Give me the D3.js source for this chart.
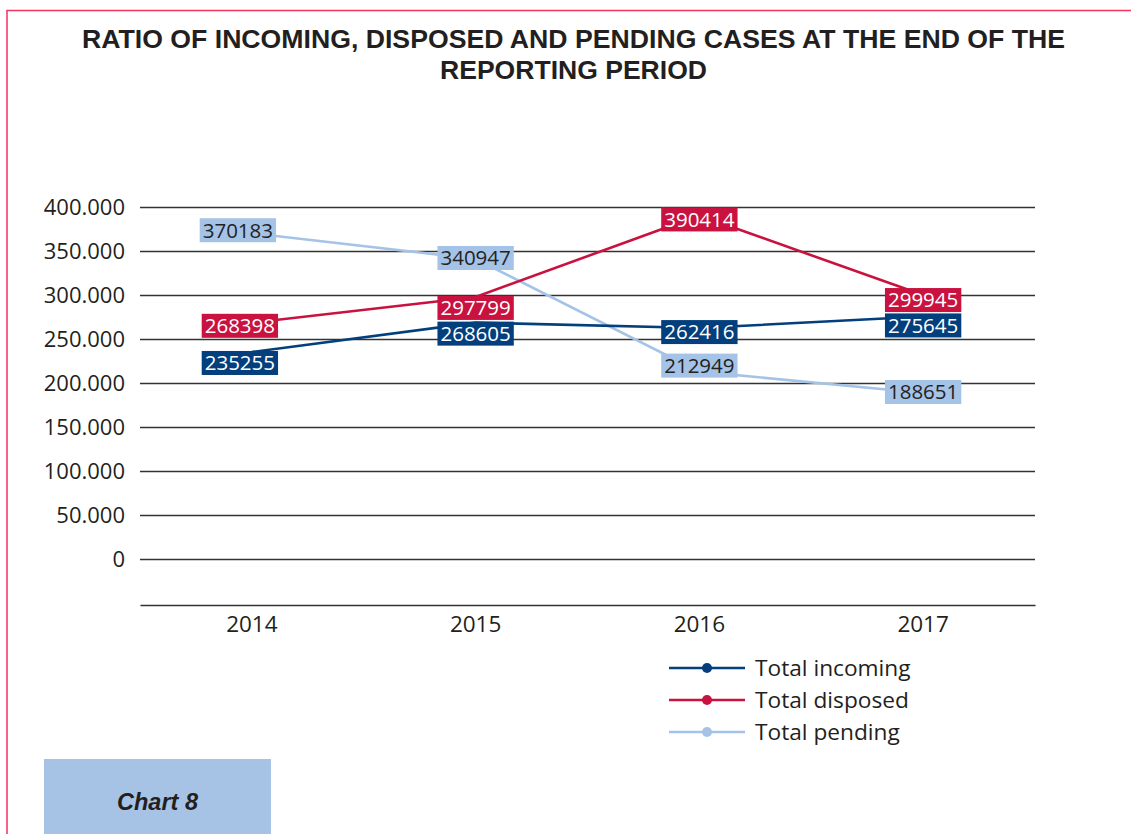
<!DOCTYPE html>
<html>
<head>
<meta charset="utf-8">
<script src="https://cdn.jsdelivr.net/npm/d3@7"></script>
<style>
  body { margin: 0; background: #fff; }
  svg { display: block; }
</style>
</head>
<body>
<svg width="1131" height="834"></svg>
<script>
let years = ["2014", "2015", "2016", "2017"];
let incoming = [235255, 268605, 262416, 275645];
let disposed = [268398, 297799, 390414, 299945];
let pending = [370183, 340947, 212949, 188651];
let seriesNames = ["Total incoming", "Total disposed", "Total pending"];
let yTicks = [0, 50000, 100000, 150000, 200000, 250000, 300000, 350000, 400000];

let colors = ["#033f7c", "#c9123f", "#a5c3e6"];
let labelText = ["#fff", "#fff", "#222"];

// label nudges (px) so the boxes don't sit on top of each other, like the original
let nudge = {
  "0-0": [-12, 11], "1-0": [-12, 3], "2-0": [-14, -3],
  "0-1": [0, 11], "1-1": [0, 11], "2-1": [0, -1],
  "0-2": [0, 4], "1-2": [0, 4], "2-2": [0, -6],
  "0-3": [0, 9], "1-3": [0, 5], "2-3": [0, -1]
};

let svg = d3.select("svg"),
  width = +svg.attr("width"),
  height = +svg.attr("height");

let font = "'Open Sans', 'Segoe UI', sans-serif";
let fmt = d3.formatLocale({ decimal: ",", thousands: ".", grouping: [3], currency: ["", ""] }).format(",d");

// pink frame
svg.append("path")
  .attr("d", "M7,834 V10.5 H1131")
  .attr("fill", "none")
  .attr("stroke", "#f3325d")
  .attr("stroke-width", 1.5);

// title
let title = svg.append("text")
  .attr("text-anchor", "middle")
  .style("font", "bold 25px 'Liberation Sans', Arial, sans-serif")
  .attr("fill", "#231f20");
title.append("tspan").attr("x", 573.5).attr("y", 48)
  .attr("textLength", 983).attr("lengthAdjust", "spacingAndGlyphs")
  .text("RATIO OF INCOMING, DISPOSED AND PENDING CASES AT THE END OF THE");
title.append("tspan").attr("x", 573.5).attr("y", 79)
  .attr("textLength", 267).attr("lengthAdjust", "spacingAndGlyphs")
  .text("REPORTING PERIOD");

let x = d3.scaleBand().domain(years).range([140, 1035]);
let y = d3.scaleLinear().domain([0, 400000]).range([559, 207]);

// gridlines + y labels
let yAxis = svg.append("g")
  .attr("transform", "translate(140,0)")
  .call(d3.axisLeft(y).tickValues(yTicks).tickSize(-895).tickPadding(15).tickFormat(fmt));
yAxis.select(".domain").remove();
yAxis.selectAll(".tick line").attr("stroke", "#333").attr("stroke-width", 1.5);
yAxis.selectAll(".tick text")
  .style("font", "22px " + font)
  .attr("fill", "#231f20");

// category axis below the zero line
let xAxis = svg.append("g")
  .attr("transform", "translate(0,605)")
  .call(d3.axisBottom(x).tickSize(0).tickPadding(11));
xAxis.select(".domain").attr("stroke", "#333").attr("stroke-width", 1.5);
xAxis.selectAll(".tick text")
  .style("font", "22.5px " + font)
  .attr("fill", "#231f20");

let series = [incoming, disposed, pending];
let line = d3.line()
  .x((d, i) => x(years[i]) + x.bandwidth() / 2)
  .y(d => y(d));

// lines, pending drawn first so the other series sit on top
[2, 1, 0].forEach(s => {
  svg.append("path")
    .datum(series[s])
    .attr("d", line)
    .attr("fill", "none")
    .attr("stroke", colors[s])
    .attr("stroke-width", 2.6);
});

// data labels
[2, 0, 1].forEach(s => {
  series[s].forEach((v, i) => {
    let n = nudge[s + "-" + i];
    let cx = x(years[i]) + x.bandwidth() / 2 + n[0];
    let cy = y(v) + n[1];
    let g = svg.append("g").attr("transform", "translate(" + cx + "," + cy + ")");
    let t = g.append("text")
      .attr("text-anchor", "middle")
      .attr("dy", "0.36em")
      .style("font", "20.5px " + font)
      .attr("fill", labelText[s])
      .text(v);
    let w = t.node().getComputedTextLength();
    g.insert("rect", "text")
      .attr("x", -w / 2 - 3)
      .attr("y", -12)
      .attr("width", w + 6)
      .attr("height", 24)
      .attr("fill", colors[s]);
  });
});

// legend
let legend = svg.append("g").attr("transform", "translate(669,668)");
seriesNames.forEach((name, i) => {
  let g = legend.append("g").attr("transform", "translate(0," + i * 32 + ")");
  g.append("line").attr("x1", 0).attr("x2", 76).attr("stroke", colors[i]).attr("stroke-width", 2.6);
  g.append("circle").attr("cx", 38).attr("r", 5).attr("fill", colors[i]);
  g.append("text")
    .attr("x", 86)
    .attr("dy", "0.33em")
    .style("font", "22.7px " + font)
    .attr("fill", "#231f20")
    .text(name);
});

// "Chart 8" tab
svg.append("rect")
  .attr("x", 44).attr("y", 759)
  .attr("width", 227).attr("height", height - 759)
  .attr("fill", "#a6c3e6");
svg.append("text")
  .attr("x", 157.5).attr("y", 810)
  .attr("text-anchor", "middle")
  .style("font", "italic bold 23.5px 'Liberation Sans', Arial, sans-serif")
  .attr("fill", "#231f20")
  .text("Chart 8");
</script>
</body>
</html>
